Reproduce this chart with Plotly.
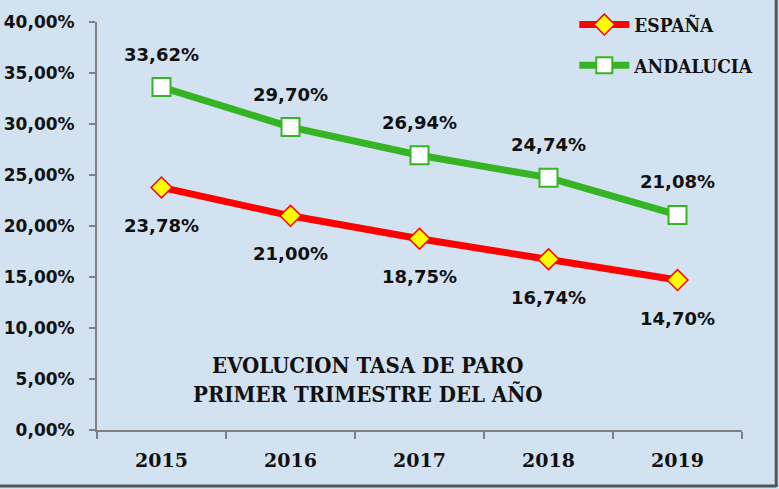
import plotly.graph_objects as go

years = ["2015", "2016", "2017", "2018", "2019"]
espana = [23.78, 21.00, 18.75, 16.74, 14.70]
andalucia = [33.62, 29.70, 26.94, 24.74, 21.08]
y_ticks = [0, 5, 10, 15, 20, 25, 30, 35, 40]
y_tick_text = ["0,00%", "5,00%", "10,00%", "15,00%", "20,00%", "25,00%", "30,00%", "35,00%", "40,00%"]


def pct(v):
    return f"{v:.2f}%".replace(".", ",")


bg = "#d3e2f1"
red = "#ff0000"
green = "#36b524"

fig = go.Figure()
fig.add_scatter(
    x=years, y=espana, name="ESPAÑA", mode="lines+markers",
    line=dict(color=red, width=7),
    marker=dict(symbol="diamond", size=16, color="#ffff00", line=dict(color=red, width=1.5)),
    legendgroup="a",
)
fig.add_scatter(
    x=years, y=andalucia, name="ANDALUCIA", mode="lines+markers",
    line=dict(color=green, width=7),
    marker=dict(symbol="square", size=18, color="white", line=dict(color=green, width=2)),
    legendgroup="b",
)

# etiquetas de datos (posicion por indice de categoria)
label_font = dict(family="DejaVu Sans", size=18, color="#111111")
for i, v in enumerate(andalucia):
    fig.add_annotation(x=i, y=v, text="<b>" + pct(v) + "</b>", showarrow=False,
                       yshift=33, font=label_font)
for i, v in enumerate(espana):
    fig.add_annotation(x=i, y=v, text="<b>" + pct(v) + "</b>", showarrow=False,
                       yshift=-38, font=label_font)

fig.add_annotation(
    xref="paper", yref="paper", x=0.42, y=0.125, xanchor="center", yanchor="middle",
    text="<b>EVOLUCION TASA DE PARO<br>PRIMER TRIMESTRE DEL AÑO</b>",
    showarrow=False, align="center",
    font=dict(family="DejaVu Serif Condensed", size=22, color="#111111"),
)

# marco del grafico
fig.add_shape(type="line", xref="paper", yref="paper", x0=1.053, x1=1.053, y0=-0.14, y1=1.06,
              line=dict(color="#555555", width=3))
fig.add_shape(type="line", xref="paper", yref="paper", x0=-0.16, x1=1.053, y0=-0.137, y1=-0.137,
              line=dict(color="#555555", width=3))

fig.update_layout(
    width=779, height=489,
    margin=dict(l=97, r=37, t=22, b=59, autoexpand=False),
    paper_bgcolor=bg, plot_bgcolor=bg,
    showlegend=True,
    legend=dict(
        x=0.74, y=1.04, xanchor="left", yanchor="top",
        bgcolor="rgba(0,0,0,0)", traceorder="grouped", tracegroupgap=13,
        itemwidth=50,
        font=dict(family="DejaVu Serif Condensed", size=19, color="#111111", weight="bold"),
    ),
)
fig.update_xaxes(
    type="category", range=[-0.5, 4.5], automargin=False,
    showline=True, linecolor="#808080", linewidth=2,
    ticks="outside", tickson="boundaries", ticklen=7, tickcolor="#808080", tickwidth=2,
    showgrid=False, ticklabelstandoff=12,
    tickfont=dict(family="DejaVu Serif", size=19, color="#111111", weight="bold"),
)
fig.update_yaxes(
    range=[0, 40], tickvals=y_ticks, ticktext=y_tick_text, automargin=False,
    showline=True, linecolor="#808080", linewidth=2,
    ticks="outside", ticklen=6, tickcolor="#808080", tickwidth=2,
    showgrid=False, zeroline=False, ticklabelstandoff=11,
    tickfont=dict(family="DejaVu Sans", size=17, color="#111111", weight="bold"),
)

# quitar el margen por defecto de la pagina
fig.write_html("out.html", config={"displayModeBar": False},
               post_script="document.body.style.margin='0';document.body.style.background='" + bg + "';")
